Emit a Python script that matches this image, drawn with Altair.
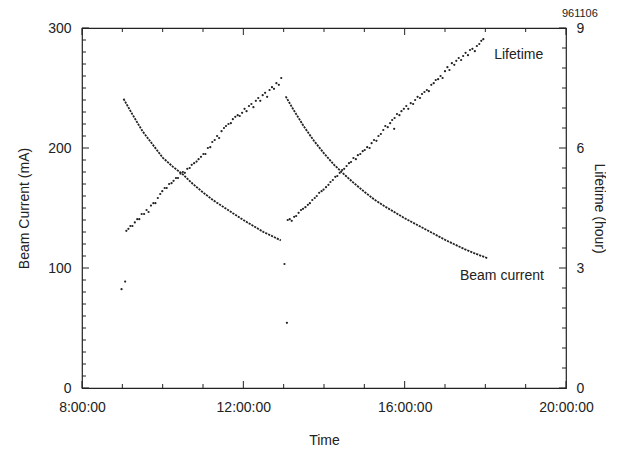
import altair as alt
import pandas as pd

# ---- Beam current (mA), two fills ----
cur1_t = [9.03, 9.25, 9.50, 9.75, 10.00, 10.25, 10.50, 10.75, 11.00, 11.25, 11.50,
          11.75, 12.00, 12.25, 12.50, 12.75, 12.93]
cur1_v = [241, 228, 214, 203, 192, 184.5, 178, 170, 163, 156.5, 151,
          145.5, 140, 135, 130, 126, 123]
cur2_t = [13.05, 13.25, 13.50, 13.75, 14.00, 14.25, 14.50, 14.75, 15.00, 15.25, 15.50,
          15.75, 16.00, 16.25, 16.50, 16.75, 17.00, 17.25, 17.50, 17.75, 18.07]
cur2_v = [243, 231.5, 218, 206, 195.5, 186, 178, 170.5, 163.5, 157, 151.5,
          146.5, 141.5, 137, 132.5, 128, 123.5, 119.5, 115.5, 112, 108]

# ---- Lifetime (hour) ----
life1_t = [8.98, 9.07, 9.10, 9.15, 9.20, 9.25, 9.31, 9.37, 9.42, 9.48, 9.54, 9.60, 9.65,
           9.71, 9.77, 9.82, 9.88, 9.94, 9.99, 10.05, 10.10, 10.16, 10.22, 10.27,
           10.33, 10.38, 10.44, 10.50, 10.55, 10.61, 10.67, 10.72, 10.78, 10.84,
           10.89, 10.95, 11.01, 11.06, 11.12, 11.18, 11.23, 11.29, 11.35, 11.40,
           11.46, 11.52, 11.57, 11.63, 11.69, 11.74, 11.80, 11.86, 11.91, 11.97,
           12.03, 12.08, 12.14, 12.20, 12.25, 12.31, 12.37, 12.42, 12.48, 12.54,
           12.59, 12.65, 12.71, 12.76, 12.82, 12.88, 12.94]
life1_v = [2.47, 2.66, 3.93, 3.98, 4.05, 4.05, 4.14, 4.22, 4.22, 4.35, 4.35, 4.45, 4.40,
           4.56, 4.62, 4.62, 4.75, 4.85, 4.92, 5.00, 5.00, 5.10, 5.12, 5.18,
           5.25, 5.25, 5.36, 5.40, 5.38, 5.48, 5.50, 5.58, 5.62, 5.66,
           5.72, 5.78, 5.85, 5.85, 6.00, 6.02, 6.15, 6.20, 6.30, 6.25,
           6.42, 6.50, 6.55, 6.60, 6.62, 6.72, 6.78, 6.82, 6.80, 6.88,
           6.98, 6.92, 7.05, 7.10, 7.02, 7.18, 7.25, 7.18, 7.32, 7.38,
           7.28, 7.45, 7.52, 7.48, 7.62, 7.58, 7.75]
life2_t = [13.02, 13.08, 13.10, 13.15, 13.20, 13.26, 13.31, 13.37, 13.43, 13.48, 13.54,
           13.60, 13.65, 13.71, 13.77, 13.82, 13.88, 13.94, 13.99, 14.05, 14.11,
           14.16, 14.22, 14.28, 14.33, 14.39, 14.45, 14.50, 14.56, 14.62, 14.67,
           14.73, 14.79, 14.84, 14.90, 14.96, 15.01, 15.07, 15.13, 15.18, 15.24,
           15.30, 15.35, 15.41, 15.47, 15.52, 15.58, 15.64, 15.69, 15.74, 15.75,
           15.81, 15.87, 15.92, 15.98, 16.04, 16.09, 16.15, 16.21, 16.26, 16.32,
           16.38, 16.43, 16.49, 16.55, 16.60, 16.66, 16.72, 16.77, 16.83, 16.89,
           16.94, 17.00, 17.06, 17.11, 17.17, 17.23, 17.28, 17.34, 17.40, 17.45,
           17.51, 17.57, 17.62, 17.68, 17.74, 17.79, 17.85, 17.90, 17.95]
life2_v = [3.10, 1.63, 4.20, 4.22, 4.18, 4.28, 4.30, 4.38, 4.45, 4.48, 4.52,
           4.58, 4.62, 4.70, 4.75, 4.80, 4.88, 4.92, 4.96, 5.02, 5.08,
           5.15, 5.20, 5.28, 5.30, 5.38, 5.45, 5.48, 5.55, 5.62, 5.65,
           5.75, 5.72, 5.82, 5.85, 5.92, 5.95, 6.02, 6.00, 6.12, 6.20,
           6.18, 6.30, 6.35, 6.45, 6.55, 6.52, 6.62, 6.70, 6.48, 6.75,
           6.85, 6.82, 6.92, 6.98, 7.05, 6.98, 7.12, 7.10, 7.20, 7.28,
           7.25, 7.35, 7.40, 7.45, 7.42, 7.58, 7.62, 7.70, 7.72, 7.80,
           7.75, 7.92, 8.02, 7.95, 8.12, 8.08, 8.18, 8.25, 8.20, 8.30,
           8.38, 8.32, 8.45, 8.48, 8.42, 8.55, 8.60, 8.68, 8.72]

# ---- axis ticks / labels ----
hour_ticks = list(range(8, 21))
hour_labels = [8, 12, 16, 20]
cur_ticks = list(range(0, 301, 10))
cur_labels = [0, 100, 200, 300]
life_ticks = [i * 0.5 for i in range(19)]
life_labels = [0, 3, 6, 9]

# ---- annotations ----
ann_life = pd.DataFrame({"t": [18.22], "life": [8.33], "txt": ["Lifetime"]})
ann_cur = pd.DataFrame({"t": [17.37], "current": [93.3], "txt": ["Beam current"]})

cur_df = pd.DataFrame({
    "t": cur1_t + cur2_t,
    "current": cur1_v + cur2_v,
    "fill": ["1"] * len(cur1_t) + ["2"] * len(cur2_t),
})
life_df = pd.DataFrame({"t": life1_t + life2_t, "life": life1_v + life2_v})

W, H = 484, 360
INK = "#222222"
FONT = "Liberation Sans"

xs = alt.Scale(domain=[8, 20], nice=False, zero=False)
ys_cur = alt.Scale(domain=[0, 300], nice=False)
ys_life = alt.Scale(domain=[0, 9], nice=False)

COMMON = dict(domain=False, grid=False, labelFlush=False, labelOverlap=False,
              ticks=False, tickSize=0)

cur_line = alt.Chart(cur_df).mark_line(
    color=INK, strokeWidth=1.8, strokeDash=[2.2, 1.0]
).encode(
    x=alt.X("t:Q", scale=xs, axis=alt.Axis(
        orient="bottom", values=hour_labels, labelExpr="datum.value + ':00:00'",
        labelPadding=12, title="Time", titlePadding=19, **COMMON)),
    y=alt.Y("current:Q", scale=ys_cur, axis=alt.Axis(
        orient="left", values=cur_labels, labelPadding=11,
        title="Beam Current  (mA)", titlePadding=16, **COMMON)),
    detail="fill:N",
)
cur_text = alt.Chart(ann_cur).mark_text(
    align="left", baseline="middle", font=FONT, fontSize=14, color=INK
).encode(
    x=alt.X("t:Q", scale=xs, axis=None),
    y=alt.Y("current:Q", scale=ys_cur, axis=None),
    text="txt:N",
)

life_pts = alt.Chart(life_df).mark_circle(size=5, color=INK, opacity=1).encode(
    x=alt.X("t:Q", scale=xs, axis=None),
    y=alt.Y("life:Q", scale=ys_life, axis=alt.Axis(
        orient="right", values=life_labels, labelPadding=10,
        title="Lifetime  (hour)", titlePadding=8, **COMMON)),
)
life_text = alt.Chart(ann_life).mark_text(
    align="left", baseline="middle", font=FONT, fontSize=14, color=INK
).encode(
    x=alt.X("t:Q", scale=xs, axis=None),
    y=alt.Y("life:Q", scale=ys_life, axis=None),
    text="txt:N",
)


# inward tick marks drawn as one-sided line symbols on the frame edges
# (symbol length = sqrt(size)/2 : 196 -> 7 px major, 64 -> 4 px minor)
def edge_ticks(values, scale, channel, edge_px, path, major_test):
    df = pd.DataFrame({"v": values})
    base = alt.Chart(df).transform_calculate(
        sz=f"({major_test}) ? 196 : 64"
    ).mark_point(shape=path, filled=False, stroke=INK, strokeWidth=1, opacity=1)
    if channel == "y":
        enc = dict(y=alt.Y("v:Q", scale=scale, axis=None), x=alt.value(edge_px))
    else:
        enc = dict(x=alt.X("v:Q", scale=scale, axis=None), y=alt.value(edge_px))
    return base.encode(size=alt.Size("sz:Q", scale=None, legend=None), **enc)


tick_layers = [
    edge_ticks(cur_ticks, ys_cur, "y", 0, "M0,0L1,0", "datum.v % 100 === 0"),
    edge_ticks(life_ticks, ys_life, "y", W, "M0,0L-1,0", "datum.v % 3 === 0"),
    edge_ticks(hour_ticks, xs, "x", H, "M0,0L0,-1", "datum.v % 4 === 0"),
    edge_ticks(hour_ticks, xs, "x", 0, "M0,0L0,1", "datum.v % 4 === 0"),
]

chart = alt.layer(
    cur_line, cur_text, life_pts, life_text, *tick_layers
).resolve_scale(
    x="independent", y="independent", size="independent"
).properties(
    width=W, height=H, background="white",
    padding={"left": 9, "top": 0, "right": 0, "bottom": 0},
    title=alt.TitleParams("961106", anchor="end", fontSize=11, font=FONT,
                          fontWeight="normal", color=INK, offset=2, dx=-8),
).configure_view(
    stroke=INK, strokeWidth=1.2
).configure_axis(
    labelFont=FONT, titleFont=FONT, labelFontSize=14, titleFontSize=14,
    labelColor=INK, titleColor=INK, titleFontWeight="normal"
)

chart.save("out.html", embed_options={"renderer": "svg", "actions": False})
